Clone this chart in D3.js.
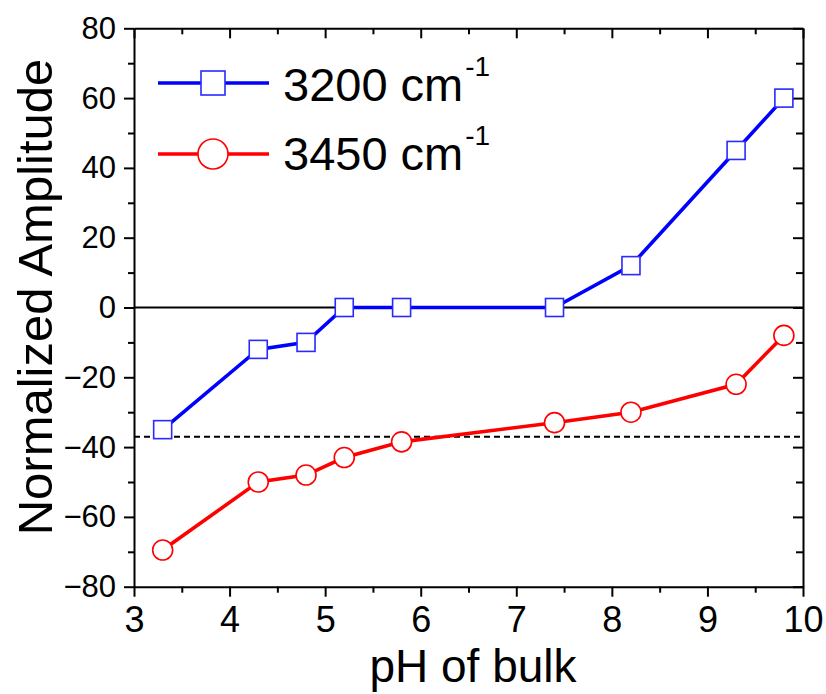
<!DOCTYPE html>
<html>
<head>
<meta charset="utf-8">
<script src="https://d3js.org/d3.v7.min.js"></script>
<style>
  body { margin: 0; background: #fff; }
  svg { display: block; font-family: "Liberation Sans", Arial, sans-serif; }
</style>
</head>
<body>
<svg id="chart" width="826" height="694"></svg>
<script>
const pH = [3.3, 4.3, 4.8, 5.2, 5.8, 7.4, 8.2, 9.3, 9.8];
const amp3200 = [-35, -12, -10, 0, 0, 0, 12, 45, 60];
const amp3450 = [-69.5, -50, -48, -43, -38.5, -33, -30, -22, -8];
const dashedLevel = -37;
const xTicks = [3, 4, 5, 6, 7, 8, 9, 10];
const yTicks = [-80, -60, -40, -20, 0, 20, 40, 60, 80];
const seriesNames = ["3200 cm", "3450 cm"];

const svg = d3.select("#chart");
const L = 134, R = 803, T = 28.3, B = 586.7;
const x = d3.scaleLinear().domain([3, 10]).range([L, R]);
const y = d3.scaleLinear().domain([-80, 80]).range([B, T]);

const xMinor = d3.range(3.5, 10, 1);
const yMinor = d3.range(-70, 80, 20);

// Reference lines
svg.append("line").attr("x1", L).attr("x2", R).attr("y1", y(0)).attr("y2", y(0))
  .attr("stroke", "#000").attr("stroke-width", 2);
svg.append("line").attr("x1", L).attr("x2", R).attr("y1", y(dashedLevel)).attr("y2", y(dashedLevel))
  .attr("stroke", "#000").attr("stroke-width", 2).attr("stroke-dasharray", "6,4");

// Axes
function styleAxis(g) {
  g.selectAll("path.domain").attr("stroke", "#000").attr("stroke-width", 2);
  g.selectAll(".tick line").attr("stroke", "#000").attr("stroke-width", 2);
  g.selectAll(".tick text").attr("fill", "#000");
}
const gx = svg.append("g").attr("transform", `translate(0,${B})`)
  .call(d3.axisBottom(x).tickValues(xTicks).tickFormat(d3.format("d")).tickSizeInner(10).tickSizeOuter(0).tickPadding(10));
gx.selectAll(".tick text").attr("font-size", 36).attr("font-family", "Liberation Sans, Arial");
styleAxis(gx);
const gxm = svg.append("g").attr("transform", `translate(0,${B})`)
  .call(d3.axisBottom(x).tickValues(xMinor).tickFormat("").tickSizeInner(6).tickSizeOuter(0));
gxm.select("path.domain").remove(); styleAxis(gxm);

const gy = svg.append("g").attr("transform", `translate(${L},0)`)
  .call(d3.axisLeft(y).tickValues(yTicks).tickFormat(d3.format("d")).tickSizeInner(10).tickSizeOuter(0).tickPadding(8));
gy.selectAll(".tick text").attr("font-size", 31).attr("font-family", "Liberation Sans, Arial");
styleAxis(gy);
const gym = svg.append("g").attr("transform", `translate(${L},0)`)
  .call(d3.axisLeft(y).tickValues(yMinor).tickFormat("").tickSizeInner(6).tickSizeOuter(0));
gym.select("path.domain").remove(); styleAxis(gym);

// Top and right (inward ticks)
const gt = svg.append("g").attr("transform", `translate(0,${T})`)
  .call(d3.axisBottom(x).tickValues(xTicks).tickFormat("").tickSizeInner(10).tickSizeOuter(0));
styleAxis(gt);
const gtm = svg.append("g").attr("transform", `translate(0,${T})`)
  .call(d3.axisBottom(x).tickValues(xMinor).tickFormat("").tickSizeInner(6).tickSizeOuter(0));
gtm.select("path.domain").remove(); styleAxis(gtm);
const gr = svg.append("g").attr("transform", `translate(${R},0)`)
  .call(d3.axisLeft(y).tickValues(yTicks).tickFormat("").tickSizeInner(10).tickSizeOuter(0));
styleAxis(gr);
const grm = svg.append("g").attr("transform", `translate(${R},0)`)
  .call(d3.axisLeft(y).tickValues(yMinor).tickFormat("").tickSizeInner(7).tickSizeOuter(0));
grm.select("path.domain").remove(); styleAxis(grm);

// Series
const line = d3.line().x(d => x(d[0])).y(d => y(d[1]));
const d1 = pH.map((p, i) => [p, amp3200[i]]);
const d2 = pH.map((p, i) => [p, amp3450[i]]);
svg.append("path").datum(d1).attr("d", line).attr("fill", "none").attr("stroke", "#0000ff").attr("stroke-width", 3.6);
svg.append("path").datum(d2).attr("d", line).attr("fill", "none").attr("stroke", "#ff0000").attr("stroke-width", 3.6);
const sq = 18;
svg.append("g").selectAll("rect").data(d1).join("rect")
  .attr("x", d => x(d[0]) - sq / 2).attr("y", d => y(d[1]) - sq / 2)
  .attr("width", sq).attr("height", sq)
  .attr("fill", "#fff").attr("stroke", "#2a2aff").attr("stroke-width", 1.6);
svg.append("g").selectAll("circle").data(d2).join("circle")
  .attr("cx", d => x(d[0])).attr("cy", d => y(d[1])).attr("r", 10)
  .attr("fill", "#fff").attr("stroke", "#ff0000").attr("stroke-width", 1.6);

// Legend
const lg = svg.append("g");
const ly1 = 83, ly2 = 154, lx1 = 158, lx2 = 269, lc = 213;
lg.append("line").attr("x1", lx1).attr("x2", lx2).attr("y1", ly1).attr("y2", ly1).attr("stroke", "#0000ff").attr("stroke-width", 3.6);
lg.append("rect").attr("x", lc - 12).attr("y", ly1 - 12).attr("width", 24).attr("height", 24)
  .attr("fill", "#fff").attr("stroke", "#2a2aff").attr("stroke-width", 1.6);
lg.append("line").attr("x1", lx1).attr("x2", lx2).attr("y1", ly2).attr("y2", ly2).attr("stroke", "#ff0000").attr("stroke-width", 3.6);
lg.append("circle").attr("cx", lc).attr("cy", ly2).attr("r", 15)
  .attr("fill", "#fff").attr("stroke", "#ff0000").attr("stroke-width", 1.6);
[[seriesNames[0], 101], [seriesNames[1], 170]].forEach(([t, by]) => {
  const txt = lg.append("text").attr("x", 283).attr("y", by)
    .attr("font-size", 47).attr("fill", "#000");
  txt.append("tspan").text(t);
  txt.append("tspan").attr("font-size", 28).attr("dx", 2).attr("dy", -25.5).text("-1");
});

// Axis titles
svg.append("text").attr("x", 473).attr("y", 682).attr("text-anchor", "middle")
  .attr("font-size", 46).attr("fill", "#000").text("pH of bulk");
svg.append("text").attr("transform", "translate(52,297) rotate(-90)").attr("text-anchor", "middle")
  .attr("font-size", 49).attr("fill", "#000").text("Normalized Amplitude");
</script>
</body>
</html>
